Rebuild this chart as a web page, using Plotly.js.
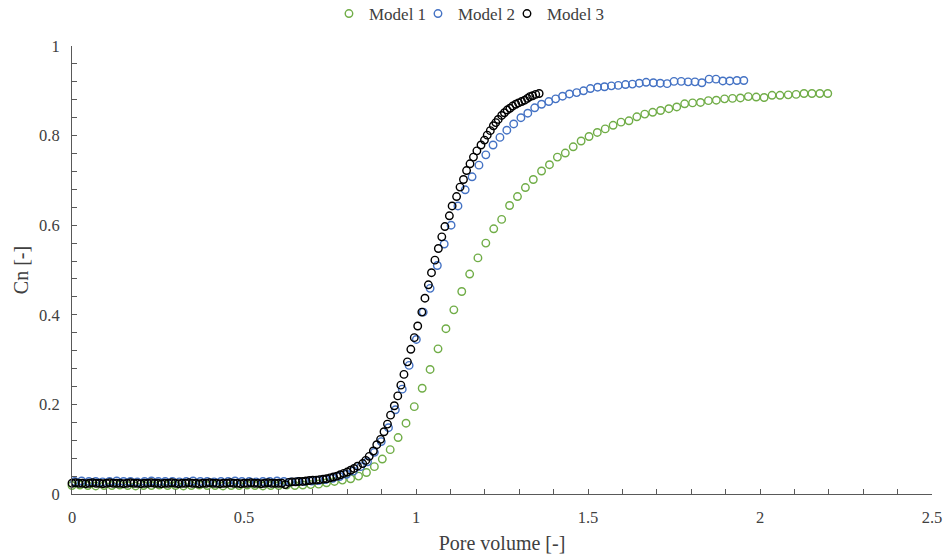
<!DOCTYPE html>
<html>
<head>
<meta charset="utf-8">
<script src="https://cdn.plot.ly/plotly-3.0.1.min.js"></script>
<style>html,body{margin:0;padding:0;background:#fff;}#chart{width:945px;height:560px;}</style>
</head>
<body>
<div id="chart"></div>
<script>
const seriesNames = ["Model 1", "Model 2", "Model 3"];

const model1X = [0.000,0.023,0.046,0.069,0.093,0.116,0.139,0.162,0.185,0.208,
0.231,0.254,0.278,0.301,0.324,0.347,0.370,0.393,0.416,0.439,
0.463,0.486,0.509,0.532,0.555,0.578,0.601,0.624,0.648,0.671,
0.694,0.717,0.740,0.763,0.786,0.810,0.833,0.856,0.879,0.902,
0.925,0.948,0.971,0.995,1.018,1.041,1.064,1.087,1.110,1.133,
1.156,1.180,1.203,1.226,1.249,1.272,1.295,1.318,1.341,1.365,
1.388,1.411,1.434,1.457,1.480,1.503,1.527,1.550,1.573,1.596,
1.619,1.642,1.665,1.688,1.711,1.735,1.758,1.781,1.804,1.827,
1.850,1.873,1.897,1.920,1.943,1.966,1.989,2.012,2.035,2.058,
2.082,2.105,2.128,2.151,2.174,2.197];
const model1Y = [0.019,0.020,0.019,0.018,0.019,0.019,0.020,0.019,0.018,0.019,
0.019,0.020,0.019,0.019,0.018,0.019,0.020,0.019,0.019,0.018,
0.019,0.019,0.020,0.019,0.018,0.019,0.019,0.020,0.019,0.020,
0.021,0.022,0.025,0.028,0.031,0.034,0.040,0.048,0.061,0.078,
0.099,0.126,0.158,0.195,0.236,0.278,0.324,0.369,0.411,0.452,
0.491,0.527,0.560,0.592,0.613,0.644,0.664,0.684,0.702,0.721,
0.735,0.752,0.761,0.775,0.788,0.798,0.807,0.815,0.823,0.830,
0.833,0.842,0.848,0.852,0.856,0.860,0.864,0.871,0.873,0.874,
0.878,0.879,0.882,0.883,0.884,0.887,0.886,0.885,0.890,0.890,
0.891,0.892,0.894,0.894,0.894,0.894];

const model2X = [0.008,0.028,0.049,0.069,0.089,0.109,0.130,0.150,0.170,0.190,
0.211,0.231,0.251,0.271,0.292,0.312,0.332,0.352,0.373,0.393,
0.413,0.433,0.454,0.474,0.494,0.515,0.535,0.555,0.575,0.596,
0.616,0.636,0.656,0.677,0.697,0.717,0.737,0.758,0.778,0.798,
0.818,0.839,0.859,0.879,0.899,0.920,0.940,0.960,0.980,1.001,
1.021,1.041,1.062,1.082,1.102,1.122,1.143,1.163,1.183,1.203,
1.224,1.244,1.264,1.284,1.305,1.325,1.345,1.365,1.386,1.406,
1.426,1.446,1.467,1.487,1.507,1.528,1.548,1.568,1.588,1.609,
1.629,1.649,1.669,1.690,1.710,1.730,1.750,1.771,1.791,1.811,
1.831,1.852,1.872,1.892,1.912,1.933,1.953];
const model2Y = [0.028,0.029,0.028,0.028,0.027,0.028,0.029,0.028,0.028,0.027,
0.028,0.029,0.028,0.028,0.028,0.027,0.028,0.029,0.028,0.028,
0.027,0.028,0.028,0.029,0.028,0.028,0.027,0.028,0.028,0.029,
0.028,0.027,0.028,0.028,0.029,0.030,0.032,0.035,0.039,0.044,
0.051,0.061,0.072,0.093,0.117,0.148,0.188,0.234,0.287,0.345,
0.406,0.459,0.510,0.558,0.600,0.643,0.679,0.708,0.734,0.757,
0.779,0.796,0.812,0.826,0.840,0.850,0.862,0.870,0.876,0.882,
0.888,0.893,0.896,0.900,0.905,0.908,0.909,0.911,0.912,0.914,
0.915,0.917,0.919,0.918,0.917,0.916,0.921,0.921,0.920,0.920,
0.918,0.926,0.926,0.922,0.922,0.923,0.923];

const model3X = [0.00,0.01,0.02,0.03,0.04,0.05,0.06,0.07,0.08,0.09,
0.10,0.11,0.12,0.13,0.14,0.15,0.16,0.17,0.18,0.19,
0.20,0.21,0.22,0.23,0.24,0.25,0.26,0.27,0.28,0.29,
0.30,0.31,0.32,0.33,0.34,0.35,0.36,0.37,0.38,0.39,
0.40,0.41,0.42,0.43,0.44,0.45,0.46,0.47,0.48,0.49,
0.50,0.51,0.52,0.53,0.54,0.55,0.56,0.57,0.58,0.59,
0.60,0.61,0.62,0.63,0.64,0.65,0.66,0.67,0.68,0.69,
0.70,0.71,0.72,0.73,0.74,0.75,0.76,0.77,0.78,0.79,
0.80,0.81,0.82,0.83,
0.845,0.854,0.864,0.876,0.886,0.897,0.907,0.917,0.926,0.937,
0.947,0.956,0.965,0.975,0.985,0.995,1.005,1.017,1.026,1.036,
1.045,1.055,1.065,1.075,1.084,1.097,1.105,1.118,1.128,1.138,
1.147,1.157,1.167,1.177,1.189,1.199,1.207,1.216,1.225,1.232,
1.239,1.249,1.257,1.265,1.273,1.281,1.290,1.298,1.307,1.316,
1.324,1.331,1.339,1.348,1.358];
const model3Y = [0.024,0.025,0.024,0.024,0.023,0.024,0.025,0.024,0.024,0.023,
0.024,0.025,0.024,0.024,0.024,0.023,0.024,0.025,0.024,0.024,
0.023,0.024,0.024,0.025,0.024,0.024,0.023,0.024,0.024,0.025,
0.024,0.023,0.024,0.024,0.025,0.024,0.024,0.023,0.024,0.024,
0.025,0.024,0.024,0.023,0.024,0.024,0.025,0.024,0.024,0.023,
0.024,0.024,0.025,0.024,0.024,0.023,0.024,0.025,0.024,0.024,
0.024,0.024,0.021,0.026,0.027,0.027,0.028,0.028,0.029,0.030,
0.031,0.031,0.032,0.033,0.034,0.036,0.038,0.040,0.043,0.046,
0.049,0.053,0.057,0.062,
0.068,0.075,0.084,0.096,0.110,0.122,0.139,0.156,0.176,0.197,
0.219,0.243,0.267,0.295,0.323,0.349,0.375,0.406,0.437,0.467,
0.494,0.522,0.548,0.574,0.597,0.621,0.643,0.664,0.685,0.702,
0.722,0.737,0.752,0.766,0.779,0.790,0.801,0.811,0.822,0.829,
0.836,0.845,0.851,0.857,0.861,0.866,0.870,0.873,0.876,0.879,
0.883,0.887,0.889,0.892,0.894];

const xTickVals = [0, 0.5, 1, 1.5, 2, 2.5];
const xTickText = ["0", "0.5", "1", "1.5", "2", "2.5"];
const yTickVals = [0, 0.2, 0.4, 0.6, 0.8, 1];
const yTickText = ["0", "0.2", "0.4", "0.6", "0.8", "1"];
const colors = ["#70AD47", "#4472C4", "#000000"];

const FONT = "Liberation Serif, Times New Roman, serif";
const GREY = "#595959";
const TEXT = "#404040";

function series(name, x, y, color, legendId) {
  return {
    type: "scatter", mode: "markers", name: name, x: x, y: y,
    legend: legendId,
    cliponaxis: false,
    marker: {symbol: "circle-open", size: 7.5, color: color, line: {color: color, width: 1.4}},
    hoverinfo: "x+y+name"
  };
}

const data = [
  series(seriesNames[0], model1X, model1Y, colors[0], "legend"),
  series(seriesNames[1], model2X, model2Y, colors[1], "legend2"),
  series(seriesNames[2], model3X, model3Y, colors[2], "legend3")
];

function legendAt(x) {
  return {
    orientation: "h", x: x, xanchor: "left", y: 1.0714, yanchor: "middle",
    font: {family: FONT, size: 17, color: TEXT},
    bgcolor: "rgba(0,0,0,0)", itemwidth: 30
  };
}

const axisCommon = {
  showgrid: false, zeroline: false, showline: true,
  linecolor: GREY, linewidth: 1,
  ticks: "inside", ticklen: 5, tickwidth: 1, tickcolor: GREY,
  tickfont: {family: FONT, size: 16.5, color: TEXT},
  ticklabelstandoff: 8
};

const layout = {
  width: 945, height: 560,
  margin: {l: 72, r: 13, t: 46, b: 66, autoexpand: false},
  paper_bgcolor: "#ffffff", plot_bgcolor: "#ffffff",
  font: {family: FONT, color: TEXT},
  showlegend: true,
  legend: legendAt(0.2988),
  legend2: legendAt(0.4023),
  legend3: legendAt(0.5058),
  xaxis: Object.assign({}, axisCommon, {
    range: [0, 2.5], tickmode: "array", tickvals: xTickVals, ticktext: xTickText,
    minor: {dtick: 0.1, ticks: "inside", ticklen: 5, tickcolor: GREY, tickwidth: 1},
    title: {text: "Pore volume [-]", font: {family: FONT, size: 20, color: TEXT}, standoff: 10}
  }),
  yaxis: Object.assign({}, axisCommon, {
    range: [0, 1], tickmode: "array", tickvals: yTickVals, ticktext: yTickText,
    minor: {dtick: 0.04, ticks: "inside", ticklen: 5, tickcolor: GREY, tickwidth: 1},
    title: {text: "Cn [-]", font: {family: FONT, size: 20, color: TEXT}, standoff: 5}
  })
};

Plotly.newPlot("chart", data, layout, {displayModeBar: false, staticPlot: true});
</script>
</body>
</html>
